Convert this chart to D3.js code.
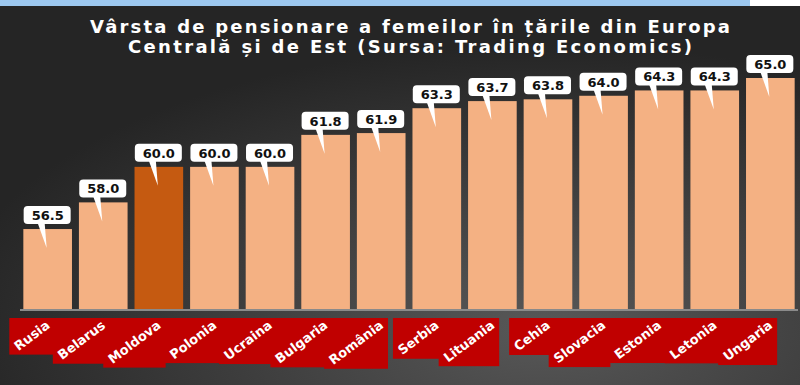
<!DOCTYPE html>
<html>
<head>
<meta charset="utf-8">
<script src="https://cdn.jsdelivr.net/npm/d3@7"></script>
<style>
  body { margin: 0; background: #ffffff; }
  svg { display: block; }
</style>
</head>
<body>
<div class="container"></div>
<script>
var width = 800;
var height = 385;

var countries = ['Rusia', 'Belarus', 'Moldova', 'Polonia', 'Ucraina', 'Bulgaria', 'România',
    'Serbia', 'Lituania', 'Cehia', 'Slovacia', 'Estonia', 'Letonia', 'Ungaria'];
var ages = [56.5, 58.0, 60.0, 60.0, 60.0, 61.8, 61.9, 63.3, 63.7, 63.8, 64.0, 64.3, 64.3, 65.0];
var highlight = ['Moldova'];
var titleLines = ['Vârsta de pensionare a femeilor în țările din Europa',
    'Centrală și de Est (Sursa: Trading Economics)'];

var baseline = 309;

var XScale = d3.scaleBand()
    .domain(countries)
    .range([20, 798])
    .paddingInner(0.125)
    .paddingOuter(0.06);

var YScale = d3.scaleLinear()
    .domain([52, 65])
    .range([baseline, 78]);

var svg = d3.select('.container').append('svg')
    .attr('width', width)
    .attr('height', height);

var defs = svg.append('defs');
var grad = defs.append('radialGradient')
    .attr('id', 'bg')
    .attr('cx', '68%').attr('cy', '85%').attr('r', '75%');
grad.append('stop').attr('offset', '0%').attr('stop-color', '#585858');
grad.append('stop').attr('offset', '100%').attr('stop-color', '#252525');

// top strip and background panel
svg.append('rect')
    .attr('x', 0).attr('y', 0)
    .attr('width', 750).attr('height', 6)
    .attr('fill', '#9dc8ef');
svg.append('rect')
    .attr('x', 0).attr('y', 6)
    .attr('width', width).attr('height', height - 6)
    .attr('fill', 'url(#bg)');

// title
svg.append('g')
    .selectAll('text')
    .data(titleLines)
    .enter().append('text')
    .attr('x', 410)
    .attr('y', function(d, i) { return 33 + i * 20; })
    .attr('text-anchor', 'middle')
    .attr('fill', '#ffffff')
    .attr('font-family', 'DejaVu Sans, Verdana, sans-serif')
    .attr('font-weight', 'bold')
    .attr('font-size', 18)
    .attr('textLength', function(d, i) { return i === 0 ? 640 : 564; })
    .attr('lengthAdjust', 'spacing')
    .text(function(d) { return d; });

// bars
svg.append('g')
    .selectAll('rect')
    .data(countries)
    .enter().append('rect')
    .attr('x', function(d) { return XScale(d); })
    .attr('y', function(d, i) { return YScale(ages[i]); })
    .attr('width', XScale.bandwidth())
    .attr('height', function(d, i) { return baseline - YScale(ages[i]); })
    .attr('fill', function(d) { return highlight.indexOf(d) >= 0 ? '#c55a11' : '#f4b183'; });

// axis line
svg.append('line')
    .attr('x1', 20).attr('x2', 798)
    .attr('y1', baseline + 1).attr('y2', baseline + 1)
    .attr('stroke', '#8a8a8a')
    .attr('stroke-width', 2);

// value callouts
var callouts = svg.append('g')
    .selectAll('g')
    .data(countries)
    .enter().append('g')
    .attr('transform', function(d, i) {
        return 'translate(' + (XScale(d) + XScale.bandwidth() / 2) + ',' + YScale(ages[i]) + ')';
    });

callouts.append('path')
    .attr('d', 'M-10,-6 L-3,-6 L-1,19 Z')
    .attr('fill', '#ffffff');

callouts.append('rect')
    .attr('x', -24).attr('y', -23)
    .attr('width', 47).attr('height', 18)
    .attr('rx', 4).attr('ry', 4)
    .attr('fill', '#ffffff');

callouts.append('text')
    .attr('x', 0).attr('y', -9)
    .attr('text-anchor', 'middle')
    .attr('font-family', 'DejaVu Sans, Verdana, sans-serif')
    .attr('font-weight', 'bold')
    .attr('font-size', 13)
    .attr('fill', '#111111')
    .text(function(d, i) { return ages[i].toFixed(1); });

// category labels on red boxes
var angle = -37;
var labelLayer = svg.append('g');
var boxLayer = labelLayer.append('g');
var textLayer = labelLayer.append('g');

countries.forEach(function(c) {
    var cx = XScale(c) + XScale.bandwidth() / 2;
    var tx = cx + 3;
    var ty = 327;
    var t = textLayer.append('text')
        .attr('x', 0).attr('y', 0)
        .attr('text-anchor', 'end')
        .attr('transform', 'translate(' + tx + ',' + ty + ') rotate(' + angle + ')')
        .attr('font-family', 'DejaVu Sans, Verdana, sans-serif')
        .attr('font-weight', 'bold')
        .attr('font-size', 13)
        .attr('fill', '#ffffff')
        .text(c);
    var b = t.node().getBBox();
    var a = angle * Math.PI / 180;
    var corners = [[b.x, b.y], [b.x + b.width, b.y], [b.x, b.y + b.height], [b.x + b.width, b.y + b.height]]
        .map(function(p) {
            return [tx + p[0] * Math.cos(a) - p[1] * Math.sin(a), ty + p[0] * Math.sin(a) + p[1] * Math.cos(a)];
        });
    var minX = d3.min(corners, function(p) { return p[0]; });
    var maxX = d3.max(corners, function(p) { return p[0]; });
    var maxY = d3.max(corners, function(p) { return p[1]; });
    boxLayer.append('rect')
        .attr('x', minX - 2)
        .attr('y', 318)
        .attr('width', maxX - minX + 4)
        .attr('height', maxY + 1 - 318)
        .attr('fill', '#c00000');
});
</script>
</body>
</html>
